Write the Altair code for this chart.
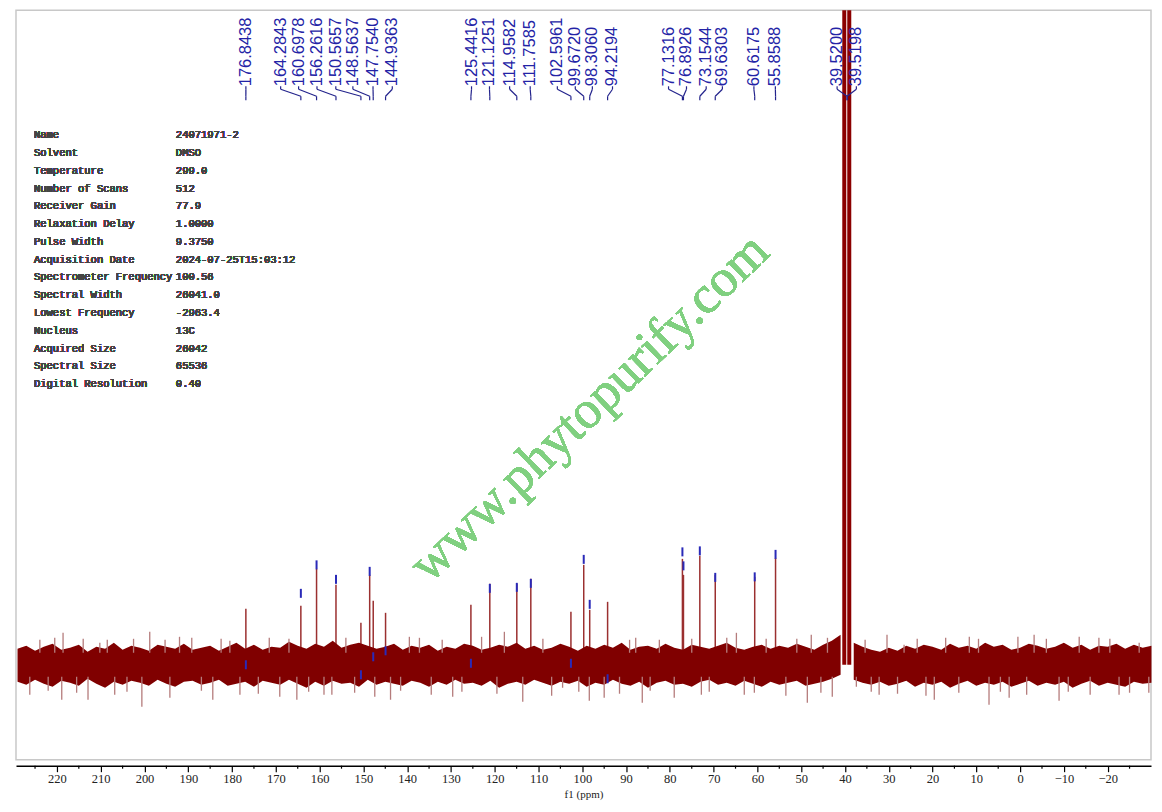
import pandas as pd
import altair as alt

# 13C NMR (DMSO) - picos
peak_ppm = [176.8438, 164.2843, 160.6978, 156.2616, 150.5657, 148.5637, 147.7540,
            144.9363, 125.4416, 121.1251, 114.9582, 111.7585, 102.5961, 99.6720,
            98.3060, 94.2194, 77.1316, 76.8926, 73.1544, 69.6303, 60.6175, 55.8588]
peak_height = [56, 59, 96, 80, 42, 90, 64, 52, 60, 81, 81, 86, 53, 100, 55, 63,
               106, 90, 109, 90, 88, 107]
marker_level = [0, 71.5, 100, 85.5, -10, 93.5, 8, 14, 1.5, 76.5, 77.5, 81.5, 1.5,
                105.5, 60.5, -14, 113, 99, 114, 87.5, 88, 110.5]

# rótulos do topo (texto, posição do rótulo em ppm, pico alvo)
label_text = ["176.8438", "164.2843", "160.6978", "156.2616", "150.5657", "148.5637",
              "147.7540", "144.9363", "125.4416", "121.1251", "114.9582", "111.7585",
              "102.5961", "99.6720", "98.3060", "94.2194", "77.1316", "76.8926",
              "73.1544", "69.6303", "60.6175", "55.8588", "39.5200", "39.5198"]
label_ppm = [176.84, 168.9, 164.8, 160.6, 156.3, 152.4, 147.8, 143.4, 125.3, 121.2,
             116.6, 111.9, 105.7, 101.6, 97.7, 93.1, 80.3, 76.2, 71.7, 68.0, 60.8,
             55.9, 41.8, 37.4]
label_target = peak_ppm + [39.52, 39.52]

# solvente (DMSO), sai da escala
solvent_ppm = [40.16, 39.02]
solvent_height = [2000, 2000]

# ruído da linha de base: envelope superior / inferior
noise_ppm_a = [229 - 2 * i for i in range(95)]          # 229 .. 41
noise_hi_a = [16, 19, 14, 18, 21, 15, 17, 20, 13, 18, 16, 22, 15, 19, 17, 14, 20, 18, 16, 21,
              15, 17, 19, 14, 18, 22, 16, 20, 15, 18, 17, 23, 19, 16, 21, 18, 24, 17, 20, 22,
              19, 16, 18, 21, 15, 19, 17, 20, 14, 18, 16, 21, 19, 15, 17, 20, 18, 22, 16, 19,
              15, 17, 21, 18, 14, 19, 16, 20, 17, 22, 15, 18, 19, 16, 21, 17, 15, 20, 18, 16,
              19, 22, 17, 15, 18, 20, 16, 19, 17, 21, 18, 15, 20, 24, 30]
noise_lo_a = [-17, -20, -15, -19, -22, -16, -18, -21, -14, -19, -23, -17, -20, -16, -18, -21, -15, -19, -22, -17,
              -16, -20, -18, -15, -21, -19, -17, -22, -16, -18, -20, -15, -19, -23, -17, -21, -16, -19, -18, -22,
              -15, -20, -17, -19, -21, -16, -18, -22, -17, -20, -15, -19, -18, -21, -16, -23, -19, -17, -20, -15,
              -18, -21, -17, -19, -16, -22, -18, -20, -15, -19, -21, -17, -23, -18, -16, -20, -19, -22, -17, -15,
              -20, -18, -21, -16, -19, -22, -17, -20, -18, -16, -21, -19, -17, -14, -10]
noise_ppm_b = [38 - 2 * i for i in range(35)]           # 38 .. -30
noise_hi_b = [22, 18, 15, 13, 17, 14, 19, 16, 20, 18, 15, 21, 17, 19, 16, 22, 18, 20, 15, 17,
              21, 19, 16, 18, 22, 17, 20, 15, 19, 18, 21, 16, 20, 17, 19]
noise_lo_b = [-15, -18, -20, -17, -21, -19, -16, -22, -18, -20, -17, -23, -19, -16, -21, -18, -20, -17, -22, -19,
              -16, -21, -18, -20, -17, -23, -19, -16, -21, -18, -20, -22, -17, -19, -18]

# picos de ruído isolados
spike_ppm = [226.2, 223.9, 222.0, 220.5, 218.9, 218.6, 215.5, 214.0, 212.9, 210.2, 208.5,
             206.8, 204.0, 202.5, 200.6, 198.8, 195.3, 194.2, 192.0, 189.2, 187.0, 184.4,
             182.5, 180.5, 178.2, 174.0, 171.5, 169.1, 167.0, 165.2, 162.5, 159.0, 157.2,
             154.0, 152.0, 147.4, 143.8, 141.5, 139.5, 137.2, 134.5, 132.0, 129.6, 127.5,
             123.0, 119.5, 117.8, 113.6, 109.0, 107.0, 104.5, 100.8, 98.4, 95.0, 91.5,
             89.2, 87.8, 86.3, 84.5, 82.4, 79.0, 75.0, 72.8, 71.0, 67.0, 64.8, 63.0, 60.7,
             58.0, 53.5, 51.0, 48.6, 47.7, 45.5, 44.0, 42.9, 37.4, 35.4, 34.0, 32.2, 30.4,
             28.0, 26.5, 23.5, 21.5, 19.6, 17.0, 14.0, 11.6, 9.5, 7.1, 4.5, 2.5, 0.5, -1.5,
             -3.2, -6.0, -8.9, -11.0, -13.5, -16.0, -18.0, -20.5, -22.6, -25.0, -27.2, -29.4]
spike_val = [-30, 25, -26, 27, -35, 32, -28, 26, -35, 22, 25, -30, -27, 26, -42, 33, 25,
             -33, 28, 27, -26, -35, 26, 24, -30, -29, 27, -32, 26, -35, -27, -30, -30, 27,
             -28, -32, -35, -26, 28, 27, -30, 25, -32, -27, 28, -29, 33, -37, 26, -31, -23,
             -27, -36, -33, -29, 25, 27, -38, -26, 25, -33, 26, -30, -27, 27, 32, -30, -28,
             26, -31, 26, -38, 30, -28, 27, -32, -22, 25, -27, -30, 30, -29, 20, 26, -31,
             -35, 27, -28, 28, 26, -40, -27, -33, 28, -30, 30, 26, -36, -27, 28, -30, 27,
             26, -30, -28, 22, -28]

info_names = ["Name", "Solvent", "Temperature", "Number of Scans", "Receiver Gain",
              "Relaxation Delay", "Pulse Width", "Acquisition Date",
              "Spectrometer Frequency", "Spectral Width", "Lowest Frequency", "Nucleus",
              "Acquired Size", "Spectral Size", "Digital Resolution"]
info_values = ["24071971-2", "DMSO", "299.0", "512", "77.9", "1.0000", "9.3750",
               "2024-07-25T15:03:12", "100.56", "26041.0", "-2963.4", "13C", "26042",
               "65536", "0.40"]

major_ticks = [220, 210, 200, 190, 180, 170, 160, 150, 140, 130, 120, 110, 100, 90, 80,
               70, 60, 50, 40, 30, 20, 10, 0, -10, -20]
minor_ticks = [225, 215, 205, 195, 185, 175, 165, 155, 145, 135, 125, 115, 105, 95, 85,
               75, 65, 55, 45, 35, 25, 15, 5, -5, -15, -25]

# tabelas
df_peaks = pd.DataFrame({"ppm": peak_ppm, "h": peak_height, "m": marker_level})
df_peaks["m_lo"] = df_peaks["m"] - 4.5
df_peaks["m_hi"] = df_peaks["m"] + 4.5
df_lab = pd.DataFrame({"label": label_text, "lppm": label_ppm, "tppm": label_target})
df_solv = pd.DataFrame({"ppm": solvent_ppm, "h": solvent_height})
df_noise = pd.concat([
    pd.DataFrame({"ppm": noise_ppm_a, "hi": noise_hi_a, "lo": noise_lo_a, "seg": "a"}),
    pd.DataFrame({"ppm": noise_ppm_b, "hi": noise_hi_b, "lo": noise_lo_b, "seg": "b"}),
], ignore_index=True)
df_spike = pd.DataFrame({"ppm": spike_ppm, "v": spike_val})
# os fios de ruído saem da borda da banda, não do zero
df_spike["base"] = df_spike["v"].apply(lambda v: 12 if v > 0 else -12)
df_minor = pd.DataFrame({"ppm": minor_ticks})

x_scale = alt.Scale(domain=[-29.9, 229.35], reverse=True, nice=False, zero=False)
y_scale = alt.Scale(domain=[-95, 655], nice=False, zero=False)

# mesmo eixo em todas as camadas (evita conflito na fusão dos eixos)
eixo_x = alt.Axis(
    values=major_ticks, tickSize=6, grid=False, offset=6,
    domainColor="#000", domainWidth=1.5, tickColor="#000", tickWidth=1.2,
    labelFont="Liberation Serif", labelFontSize=12.5, labelColor="#222",
    labelPadding=1, title="f1 (ppm)", titleFont="Liberation Serif", titleFontSize=11,
    titleFontWeight="normal", titleColor="#222", titlePadding=3,
)
eixo_y = alt.Axis(domain=False, ticks=False, labels=False, grid=False, title=None)
x_enc = lambda f: alt.X(f, scale=x_scale, axis=eixo_x)
y_enc = lambda f: alt.Y(f, scale=y_scale, axis=eixo_y)

spikes = alt.Chart(df_spike).mark_rule(color="#b57c7c", strokeWidth=1.3).encode(
    x=x_enc("ppm:Q"), y=y_enc("v:Q"), y2="base:Q"
)

peaks = alt.Chart(df_peaks).mark_rule(color="#9b3030", strokeWidth=1.5).encode(
    x=x_enc("ppm:Q"), y=y_enc("h:Q"), y2=alt.datum(0)
)

band = alt.Chart(df_noise).mark_area(color="#800000", opacity=1).encode(
    x=x_enc("ppm:Q"), y=y_enc("lo:Q"), y2="hi:Q", detail="seg:N"
)

solvent = alt.Chart(df_solv).mark_rule(color="#8b0000", strokeWidth=4, clip=True).encode(
    x=x_enc("ppm:Q"), y=y_enc("h:Q"), y2=alt.datum(0)
)

markers = alt.Chart(df_peaks).mark_rule(color="#2a2ab8", strokeWidth=2).encode(
    x=x_enc("ppm:Q"), y=y_enc("m_lo:Q"), y2="m_hi:Q"
)

# ticks menores do eixo x (abaixo da moldura)
minor = alt.Chart(df_minor).mark_rule(color="#000", strokeWidth=1.2).encode(
    x=x_enc("ppm:Q"), y=alt.value(756), y2=alt.value(759)
)

labels = alt.Chart(df_lab).mark_text(
    angle=270, align="left", baseline="middle", font="Liberation Sans",
    fontSize=16.5, color="#2323a6"
).encode(x=x_enc("lppm:Q"), y=alt.value(76), text="label:N")

conn_style = dict(color="#23238c", strokeWidth=1.2)
conn1 = alt.Chart(df_lab).mark_rule(**conn_style).encode(
    x=x_enc("lppm:Q"), y=alt.value(76), y2=alt.value(79)
)
conn2 = alt.Chart(df_lab).mark_rule(**conn_style).encode(
    x=x_enc("lppm:Q"), x2="tppm:Q", y=alt.value(79), y2=alt.value(86)
)
conn3 = alt.Chart(df_lab).mark_rule(**conn_style).encode(
    x=x_enc("tppm:Q"), y=alt.value(86), y2=alt.value(90)
)

info_style = dict(font="Liberation Mono", fontSize=10.5, color="#444", align="left",
                  baseline="middle", lineHeight=17.8)
info_a = alt.Chart(df_lab).mark_text(**info_style).encode(
    x=alt.value(18), y=alt.value(125), text=alt.value(info_names)
)
info_b = alt.Chart(df_lab).mark_text(**info_style).encode(
    x=alt.value(160), y=alt.value(125), text=alt.value(info_values)
)

marca = alt.Chart(df_lab).mark_text(
    font="Liberation Serif", fontSize=53, color="#80d080", angle=316,
    align="center", baseline="middle"
).encode(x=alt.value(574), y=alt.value(398), text=alt.value("www.phytopurify.com"))

# picos por baixo da banda escura; fios de ruído por cima, a partir da borda
chart = alt.layer(
    peaks, band, spikes, solvent, markers, minor, conn1, conn2, conn3, labels,
    info_a, info_b, marca
).properties(
    width=1136, height=750,
    padding={"left": 8, "top": 2, "right": 2, "bottom": 2},
).configure_view(
    stroke="#c8c8c8", strokeWidth=1.5
)

chart.save("out.html", embed_options={"renderer": "svg", "actions": False})
